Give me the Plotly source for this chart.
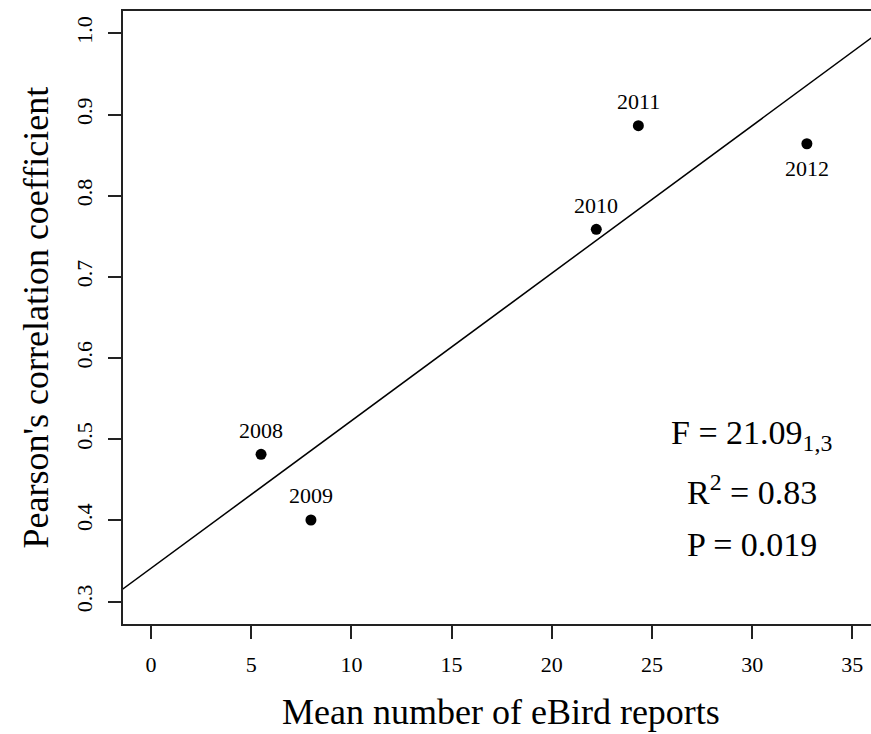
import numpy as np
import plotly.graph_objects as go

# Data
years = ["2008", "2009", "2010", "2011", "2012"]
mean_reports = [5.49, 7.98, 22.22, 24.32, 32.73]
pearson_r = [0.4815, 0.4006, 0.7586, 0.8862, 0.864]
label_side = ["top", "top", "top", "top", "bottom"]

x_ticks = [0, 5, 10, 15, 20, 25, 30, 35]
y_ticks = [0.3, 0.4, 0.5, 0.6, 0.7, 0.8, 0.9, 1.0]
stats_lines = ["F = 21.09<sub>1,3</sub>", "R<sup>2</sup> = 0.83", "P = 0.019"]

FONT = "Liberation Serif"

slope, intercept = np.polyfit(mean_reports, pearson_r, 1)
x_range = [-1.4, 35.93]
y_range = [0.2725, 1.0275]
line_x = np.array([x_range[0] - 1, x_range[1] + 1])
line_y = intercept + slope * line_x

fig = go.Figure()
fig.add_trace(go.Scatter(x=line_x, y=line_y, mode="lines",
                         line=dict(color="black", width=1.5), hoverinfo="skip"))
fig.add_trace(go.Scatter(x=mean_reports, y=pearson_r, mode="markers",
                         marker=dict(color="black", size=11)))

for xv, yv, lab, side in zip(mean_reports, pearson_r, years, label_side):
    fig.add_annotation(x=xv, y=yv, text=lab, showarrow=False,
                       yshift=24 if side == "top" else -25,
                       font=dict(family=FONT, size=22, color="black"))

stat_y = [0.3083, 0.2185, 0.1289]
for txt, yy in zip(stats_lines, stat_y):
    fig.add_annotation(xref="paper", yref="paper", x=0.8405, y=yy, text=txt,
                       showarrow=False, xanchor="center", yanchor="middle",
                       font=dict(family=FONT, size=34, color="black"))

# axis titles
fig.add_annotation(xref="paper", yref="paper", x=(501 - 123) / 748, y=-(712 - 624) / 613,
                   text="Mean number of eBird reports", showarrow=False,
                   xanchor="center", yanchor="middle",
                   font=dict(family=FONT, size=36, color="black"))
fig.add_annotation(xref="paper", yref="paper", x=-(123 - 35) / 748, y=0.5,
                   text="Pearson's correlation coefficient", showarrow=False,
                   textangle=-90, xanchor="center", yanchor="middle",
                   font=dict(family=FONT, size=36, color="black"))

fig.update_layout(
    width=871, height=734,
    margin=dict(l=123, r=0, t=11, b=110),
    plot_bgcolor="white", paper_bgcolor="white",
    showlegend=False,
    font=dict(family=FONT, color="black"),
)
fig.update_xaxes(range=x_range, tickvals=x_ticks, ticktext=[str(v) for v in x_ticks],
                 showgrid=False, zeroline=False, showline=True, mirror=True,
                 linecolor="#222", linewidth=1.5, ticks="outside", ticklen=13,
                 tickwidth=1.5, tickcolor="#222",
                 tickfont=dict(family=FONT, size=22, color="black"),
                 ticklabelstandoff=7)
fig.update_yaxes(range=y_range, tickvals=y_ticks, ticktext=[f"{v:.1f}" for v in y_ticks],
                 showgrid=False, zeroline=False, showline=True, mirror=False,
                 linecolor="#222", linewidth=1.5, ticks="outside", ticklen=13,
                 tickwidth=1.5, tickcolor="#222", tickangle=-90,
                 tickfont=dict(family=FONT, size=22, color="black"),
                 ticklabelstandoff=7)

fig.write_html("out.html")
